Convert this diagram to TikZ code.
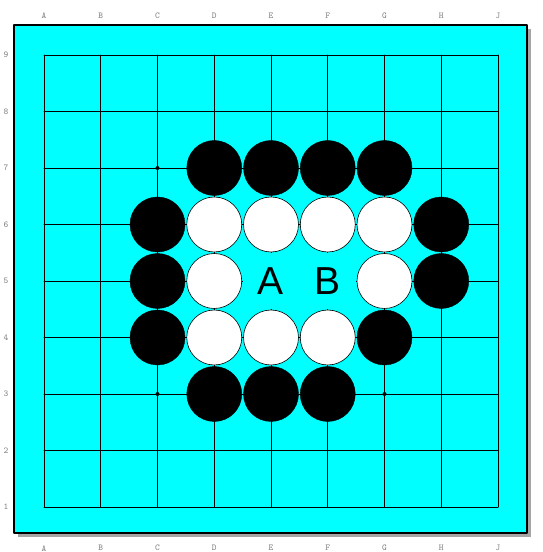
\documentclass[tikz,border=0pt]{standalone}
\usepackage{fontspec}
\newfontfamily\labelfont{Liberation Sans}
\definecolor{boardcyan}{RGB}{0,255,255}
\begin{document}
\begin{tikzpicture}[line cap=round,line join=round,x=1pt,y=1pt,
    blackstone/.style={circle,draw=black,fill=black,minimum size=55pt,inner sep=0pt},
    whitestone/.style={circle,draw=black,line width=0.6pt,fill=white,minimum size=55pt,inner sep=0pt},
    labelcell/.style={fill=boardcyan,minimum width=56.75pt,minimum height=56.5pt,inner sep=0pt,
      font=\labelfont\fontsize{39}{40}\selectfont},
    coordlabel/.style={font=\ttfamily\fontsize{9}{10}\selectfont,text=gray}]
  \useasboundingbox (0,0) rectangle (542,552);
  % Brett
  \fill[gray!70] (18,15) rectangle (530.5,523);
  \filldraw[fill=boardcyan,draw=black,line width=2pt] (14,19) rectangle (526.5,527);
  \begin{scope}[shift={(44,45)},x=56.75pt,y=56.5pt]
    % Gitter
    \foreach \i in {0,...,8} {
      \draw[line width=0.8pt] (\i,0)--(\i,8);
      \draw[line width=0.8pt] (0,\i)--(8,\i);
    }
    % Hoshi
    \foreach \c/\r in {2/2,6/2,4/4,2/6,6/6}
      \fill (\c,\r) circle (2pt);
    % Koordinaten
    \foreach \l [count=\i from 0] in {A,B,C,D,E,F,G,H,J} {
      \node[coordlabel] (top\l) at (\i,8.69) {\l};
      \node[coordlabel] (bot\l) at (\i,-0.73) {\l};
    }
    \foreach \r in {1,...,9}
      \node[coordlabel] (row\r) at (-0.67,\r-1) {\r};
    % Markierungen
    \node[labelcell] (markA) at (4,4) {A};
    \node[labelcell] (markB) at (5,4) {B};
    % Schwarz
    \foreach \c/\r [count=\n] in {3/6,4/6,5/6,6/6,2/5,7/5,2/4,7/4,2/3,6/3,3/2,4/2,5/2}
      \node[blackstone] (black\n) at (\c,\r) {};
    % Weiss
    \foreach \c/\r [count=\n] in {3/5,4/5,5/5,6/5,3/4,6/4,3/3,4/3,5/3}
      \node[whitestone] (white\n) at (\c,\r) {};
  \end{scope}
\end{tikzpicture}
\end{document}
